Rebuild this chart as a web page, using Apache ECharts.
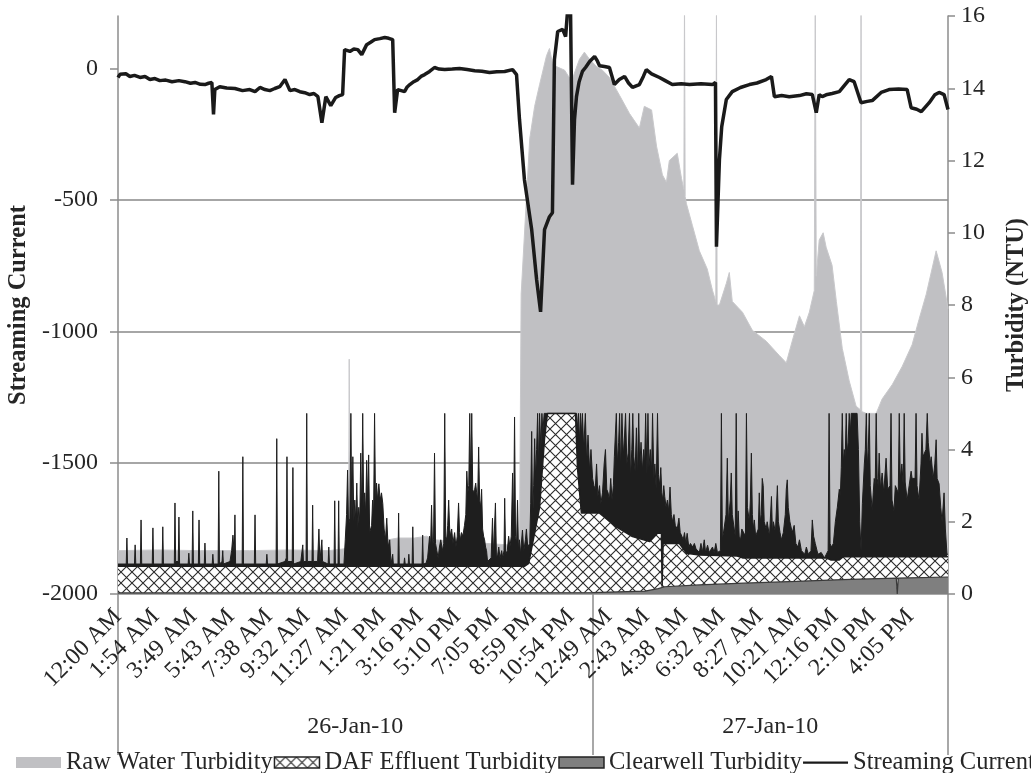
<!DOCTYPE html>
<html><head><meta charset="utf-8">
<script src="https://cdn.jsdelivr.net/npm/echarts@6/dist/echarts.min.js"></script>
<style>html,body{margin:0;padding:0;background:#fff}#c{width:1031px;height:773px}</style>
</head><body><div id="c"></div>
<script>
// x values are minutes after 12:00 AM, 26-Jan-10
const tickMinutes = [0,114,229,343,458,572,687,801,916,1030,1145,1259,1374,1489,1603,1718,1832,1947,2061,2176,2290,2405];
const tickLabels = ['12:00 AM','1:54 AM','3:49 AM','5:43 AM','7:38 AM','9:32 AM','11:27 AM','1:21 PM','3:16 PM','5:10 PM','7:05 PM','8:59 PM','10:54 PM','12:49 AM','2:43 AM','4:38 AM','6:32 AM','8:27 AM','10:21 AM','12:16 PM','2:10 PM','4:05 PM'];
const dayBounds = [0,1440,2520];
const dateCenters = [720,1980];
const dateLabels = ['26-Jan-10','27-Jan-10'];
const scTicks = [-2000,-1500,-1000,-500,0];
const turbTicks = [0,2,4,6,8,10,12,14,16];
const seriesNames = ['Raw Water Turbidity','DAF Effluent Turbidity','Clearwell Turbidity','Streaming Current'];

const rawWater = [[0,1.2],[120,1.22],[250,1.2],[400,1.2],[520,1.22],[640,1.2],[686,1.25],[700,1.3],[702,6.5],[705,1.3],[760,1.35],[820,1.5],[850,1.55],[900,1.55],[937,1.6],[960,1.5],[1030,1.45],[1120,1.4],[1198,1.35],[1219,1.4],[1224,8.3],[1250,12.6],[1265,13.5],[1280,14.1],[1301,14.9],[1310,15.1],[1319,14.7],[1331,14.6],[1356,14.5],[1377,14.2],[1401,14.8],[1416,15.0],[1432,14.8],[1453,14.6],[1471,14.5],[1492,14.3],[1523,13.8],[1553,13.3],[1583,12.9],[1598,13.5],[1620,13.4],[1635,12.4],[1653,11.6],[1665,11.4],[1674,12.0],[1698,12.2],[1711,11.5],[1718,11.2],[1720,16.5],[1722,11.0],[1726,10.8],[1744,10.2],[1765,9.5],[1789,9.0],[1805,8.4],[1815,8.1],[1817,16.5],[1819,8.0],[1826,8.0],[1847,8.6],[1856,8.9],[1865,8.1],[1896,7.8],[1926,7.3],[1968,7.0],[2008,6.6],[2029,6.4],[2047,7.0],[2069,7.7],[2084,7.4],[2099,7.8],[2114,8.4],[2117,16.5],[2120,8.8],[2129,9.8],[2141,10.0],[2150,9.6],[2168,9.1],[2181,8.1],[2199,6.8],[2220,5.9],[2241,5.2],[2254,5.1],[2256,16.5],[2258,5.05],[2272,5.0],[2302,5.0],[2320,5.4],[2351,5.8],[2381,6.3],[2411,6.9],[2432,7.6],[2454,8.3],[2484,9.5],[2502,8.9],[2520,7.9]];

// DAF effluent: upper envelope of the spiky trace (reads black) and lower envelope (hatched band)
const dafUpper = [[0,0.83],[25,0.83],[27,1.55],[29,0.83],[50,0.83],[52,1.36],[54,0.83],[68,0.83],[70,2.05],[72,0.83],[104,0.83],[106,1.83],[108,0.83],[134,0.83],[136,1.86],[138,0.83],[171,0.83],[173,2.52],[175,0.9],[183,0.9],[185,2.13],[187,0.83],[213,0.83],[215,1.13],[217,0.83],[225,0.83],[227,2.3],[229,0.83],[244,0.83],[246,2.05],[248,0.83],[262,0.83],[264,1.41],[266,0.83],[286,0.83],[288,1.1],[290,0.83],[304,0.83],[306,3.4],[308,0.83],[316,0.9],[318,1.2],[320,0.83],[340,0.9],[345,1.2],[349,1.63],[353,1.1],[355,2.19],[357,0.83],[377,0.83],[379,3.8],[381,0.83],[414,0.83],[416,2.19],[418,0.83],[450,0.83],[452,1.1],[454,0.83],[480,0.83],[482,4.3],[484,0.83],[507,0.9],[511,1.0],[513,3.8],[515,0.9],[529,0.9],[531,3.5],[533,0.83],[555,0.9],[561,1.36],[563,0.9],[571,0.9],[573,5],[575,0.9],[589,0.9],[591,2.46],[593,0.9],[606,0.9],[610,1.8],[613,0.9],[617,0.95],[619,1.5],[621,0.9],[638,0.83],[640,1.3],[642,0.83],[656,0.83],[658,2.58],[660,0.83],[668,0.83],[670,2.58],[672,0.83],
[686,0.83],[690,1.5],[694,2.2],[697,3.43],[700,1.9],[704,2.1],[707,5],[710,2.0],[713,3.8],[716,2.0],[719,2.6],[722,2.0],[725,3.07],[728,1.8],[731,2.4],[734,2.0],[737,3.9],[740,2.2],[743,5],[746,2.4],[749,2.8],[752,2.2],[755,3.7],[758,2.5],[761,3.85],[764,1.7],[767,1.68],[770,1.9],[773,2.6],[776,2.2],[779,5],[782,2.4],[785,3.07],[788,2.6],[792,3.05],[796,2.6],[800,2.8],[804,2.5],[808,1.8],[812,1.5],[816,2.1],[820,1.3],[825,1.5],[829,0.83],
[832,0.83],[834,1.1],[836,0.83],[850,0.83],[852,2.24],[854,0.83],[868,0.83],[870,1.0],[872,0.83],[881,0.83],[883,1.1],[885,0.83],[893,0.83],[895,1.86],[897,0.83],[923,0.83],[925,1.63],[927,0.83],
[935,0.85],[940,1.0],[946,1.6],[949,1.3],[952,2.46],[955,1.3],[958,1.5],[961,3.9],[964,1.4],[968,1.2],[972,1.0],[976,1.3],[980,1.5],[985,1.2],[989,1.4],[992,5],[995,1.6],[998,1.5],[1001,1.9],[1004,2.6],[1007,1.8],[1010,1.6],[1013,1.8],[1017,1.4],[1022,1.7],[1026,1.3],[1030,1.6],[1034,2.52],[1037,1.7],[1040,1.5],[1043,1.7],[1047,1.6],[1052,1.9],[1056,2.2],[1059,3.4],[1062,2.8],[1065,3.0],[1068,5],[1071,3.0],[1074,5],[1077,2.9],[1080,2.8],[1083,2.9],[1086,3.07],[1089,2.8],[1092,2.6],[1095,4.07],[1098,2.6],[1101,2.4],[1104,2.9],[1107,1.8],[1110,1.6],[1113,1.5],[1116,1.3],[1119,1.2],[1122,0.9],
[1125,0.9],[1133,1.0],[1137,2.1],[1140,1.1],[1146,2.52],[1149,1.0],[1153,1.1],[1156,1.3],[1160,1.0],[1165,1.2],[1168,1.0],[1172,1.2],[1174,2.65],[1177,1.1],[1182,1.2],[1186,1.6],[1190,1.3],[1194,1.6],[1198,3.35],[1201,1.8],[1204,4.9],[1207,1.6],[1210,1.4],[1213,2.6],[1216,1.2],[1219,1.5],[1222,1.1],[1228,1.77],[1232,1.2],[1237,1.5],[1240,1.8],[1244,1.3],[1250,1.4],[1253,2.5],[1256,4.5],[1259,2.0],[1262,3.0],[1265,4.3],[1268,3.2],[1271,4.0],[1274,5],[1277,3.5],[1280,5],[1284,4.0],[1287,5],[1290,4.5],[1294,5],[1392,5],
[1395,4.6],[1398,5],[1401,4.2],[1404,5],[1407,4.4],[1410,5],[1414,4.0],[1419,5],[1423,3.6],[1427,4.4],[1432,3.4],[1436,4.0],[1441,3.2],[1445,3.0],[1449,2.9],[1453,3.6],[1457,2.7],[1462,3.0],[1466,2.5],[1471,2.8],[1476,3.6],[1480,4.0],[1484,2.9],[1488,2.8],[1492,2.6],[1496,3.2],[1500,2.6],[1504,3.0],[1507,3.8],[1510,4.4],[1513,5],[1516,3.6],[1520,4.2],[1523,5],[1526,3.4],[1530,5],[1534,3.8],[1538,4.4],[1541,5],[1545,3.6],[1549,3.9],[1553,5],[1556,3.2],[1560,4.0],[1563,5],[1566,3.8],[1570,3.4],[1574,4.6],[1577,3.2],[1581,5],[1584,3.5],[1588,4.2],[1592,3.4],[1596,4.0],[1599,3.6],[1602,5],[1606,3.3],[1609,5],[1612,3.5],[1616,4.0],[1620,3.4],[1623,5],[1627,3.2],[1630,3.6],[1634,2.9],[1638,5],[1641,3.3],[1645,3.0],[1648,3.5],[1651,2.8],[1654,2.6],[1657,3.0],[1660,2.7],[1664,2.4],[1668,2.6],[1672,2.3],[1676,2.96],[1680,2.2],[1684,2.0],[1688,2.2],[1692,1.9],[1698,1.8],[1703,2.1],[1707,1.7],[1712,1.6],[1716,1.5],[1720,1.7],[1724,1.4],[1728,1.68],[1733,1.3],[1738,1.4],[1745,1.3],[1750,1.4],[1755,1.25],[1760,1.3],
[1765,1.15],[1770,1.4],[1774,1.15],[1780,1.5],[1784,1.15],[1790,1.35],[1795,1.15],[1805,1.3],[1810,1.15],[1815,1.4],[1820,1.15],[1829,1.2],[1832,5],[1835,1.5],[1840,1.8],[1846,2.2],[1850,3.76],[1853,2.0],[1859,2.6],[1862,3.35],[1865,2.2],[1871,1.8],[1874,1.6],[1877,5],[1880,1.7],[1883,2.3],[1886,1.6],[1890,1.5],[1894,1.8],[1905,1.6],[1908,5],[1911,2.4],[1917,2.0],[1920,2.6],[1923,3.9],[1926,2.2],[1929,1.8],[1932,2.05],[1936,1.6],[1944,1.8],[1947,2.8],[1950,2.0],[1953,2.2],[1956,3.2],[1959,3.0],[1962,2.0],[1968,1.8],[1971,2.0],[1978,1.6],[1984,2.7],[1987,1.7],[1990,2.0],[1996,1.7],[2002,3.0],[2005,2.0],[2010,1.7],[2014,1.5],[2020,1.7],[2026,2.2],[2029,2.9],[2032,3.16],[2035,2.4],[2040,2.0],[2047,1.7],[2053,1.9],[2058,1.4],[2064,1.3],[2069,1.5],[2075,1.2],[2085,1.1],[2090,1.3],[2096,1.1],[2104,1.2],[2108,2.05],[2112,1.6],[2117,1.4],[2125,1.1],[2135,1.15],[2145,1.0],[2150,1.0],[2156,1.2],[2159,5],[2162,1.4],[2166,1.3],[2172,1.4],[2178,2.0],[2184,2.4],[2190,2.9],[2193,2.7],[2196,3.5],[2199,5],[2202,3.6],[2205,4.0],[2208,3.8],[2211,5],[2214,3.9],[2217,4.2],[2220,5],[2224,4.5],[2226,5],[2244,5],[2248,4.0],[2252,2.0],[2256,1.2],[2260,2.5],[2266,3.6],[2269,4.0],[2272,5],[2275,3.5],[2278,4.0],[2281,5],[2284,3.0],[2290,2.3],[2293,2.8],[2296,3.2],[2299,3.0],[2302,5],[2305,3.2],[2308,3.0],[2311,3.9],[2315,2.9],[2320,3.35],[2325,2.8],[2332,3.76],[2337,2.9],[2344,3.0],[2347,5],[2350,2.6],[2356,2.3],[2360,3.0],[2369,2.8],[2372,5],[2375,3.2],[2380,3.6],[2384,3.0],[2387,5],[2390,3.1],[2396,2.6],[2402,3.0],[2408,3.4],[2411,3.2],[2420,3.2],[2423,5],[2426,3.0],[2432,2.6],[2438,3.6],[2441,4.45],[2444,3.8],[2453,4.0],[2457,5],[2460,4.2],[2466,3.6],[2469,3.8],[2475,3.2],[2480,3.6],[2484,4.27],[2487,3.2],[2493,3.05],[2498,2.4],[2502,2.0],[2508,2.8],[2512,1.8],[2517,1.1],[2520,1.1]];

const dafLower = [[0,0.77],[1235,0.77],[1247,0.85],[1280,2.4],[1295,4.3],[1304,5],[1389,5],[1395,3.5],[1407,2.24],[1462,2.24],[1513,1.86],[1562,1.59],[1614,1.45],[1638,1.68],[1650,1.68],[1652,0.2],[1655,1.4],[1704,1.4],[1726,1.13],[1765,1.08],[1880,1.05],[1896,1.0],[2150,1.0],[2165,0.94],[2190,0.94],[2202,1.03],[2520,1.03]];

const clearwell = [[0,0.03],[1440,0.04],[1520,0.06],[1600,0.08],[1640,0.15],[1660,0.2],[1765,0.25],[1900,0.3],[2060,0.35],[2200,0.4],[2363,0.44],[2366,0.0],[2369,0.44],[2520,0.47]];

const streaming = [[0,-34],[6,-22],[12,-27],[24,-20],[36,-30],[50,-26],[67,-34],[82,-30],[97,-42],[112,-38],[127,-46],[145,-44],[164,-50],[185,-46],[203,-50],[220,-56],[234,-53],[250,-60],[264,-61],[275,-56],[285,-53],[290,-175],[294,-80],[309,-69],[330,-74],[355,-76],[378,-84],[400,-80],[416,-88],[431,-72],[446,-80],[461,-84],[476,-76],[491,-69],[507,-42],[522,-84],[537,-80],[552,-88],[567,-92],[582,-99],[595,-95],[607,-107],[619,-206],[631,-107],[646,-141],[661,-110],[672,-103],[682,-99],[688,72],[704,65],[716,74],[728,72],[740,53],[755,91],[767,100],[779,110],[795,114],[810,118],[822,115],[834,110],[840,-168],[849,-80],[860,-84],[870,-88],[878,-70],[886,-61],[898,-50],[910,-42],[920,-30],[931,-23],[946,-11],[961,4],[975,-2],[992,-4],[1015,-2],[1037,0],[1060,-4],[1083,-8],[1105,-10],[1128,-15],[1150,-12],[1174,-11],[1198,-4],[1210,-23],[1219,-194],[1234,-423],[1256,-613],[1271,-804],[1283,-926],[1295,-613],[1310,-564],[1319,-549],[1325,34],[1335,141],[1350,149],[1359,122],[1365,220],[1374,220],[1380,-442],[1386,-194],[1392,-107],[1400,-50],[1410,-11],[1420,5],[1432,27],[1447,46],[1455,30],[1462,11],[1477,8],[1492,4],[1507,-61],[1522,-42],[1538,-30],[1550,-55],[1562,-72],[1583,-61],[1595,-30],[1604,-4],[1620,-20],[1644,-34],[1660,-45],[1683,-61],[1710,-58],[1735,-61],[1770,-58],[1805,-61],[1814,-53],[1817,-678],[1826,-347],[1833,-221],[1847,-118],[1865,-88],[1890,-72],[1917,-61],[1940,-55],[1968,-42],[1984,-30],[1993,-107],[2015,-103],[2038,-107],[2069,-103],[2090,-96],[2108,-99],[2120,-168],[2129,-99],[2138,-107],[2150,-100],[2168,-95],[2190,-88],[2205,-65],[2220,-42],[2235,-50],[2256,-130],[2275,-125],[2290,-122],[2317,-91],[2341,-80],[2370,-78],[2396,-80],[2408,-149],[2425,-155],[2439,-164],[2463,-130],[2480,-100],[2493,-91],[2508,-99],[2520,-156]];

function hatchPattern() {
  const s = 11, c = document.createElement('canvas');
  c.width = s; c.height = s;
  const g = c.getContext('2d');
  g.fillStyle = '#ffffff'; g.fillRect(0, 0, s, s);
  g.strokeStyle = '#2a2a2a'; g.lineWidth = 1.1;
  g.beginPath();
  g.moveTo(-1, -1); g.lineTo(s + 1, s + 1);
  g.moveTo(s + 1, -1); g.lineTo(-1, s + 1);
  g.stroke();
  return c;
}
const hatch = { image: hatchPattern(), repeat: 'repeat' };

const FONT = "'Liberation Serif','Times New Roman',serif";
const TXT = '#262626';
const AXC = '#8c8c8c';

function nearestLabel(v, vals, labels) {
  let best = 0, d = Infinity;
  vals.forEach((x, i) => { if (Math.abs(x - v) < d) { d = Math.abs(x - v); best = i; } });
  return labels[best];
}

const chart = echarts.init(document.getElementById('c'), null, { renderer: 'canvas' });
chart.setOption({
  animation: false,
  backgroundColor: '#ffffff',
  grid: { left: 118, right: 83, top: 16, bottom: 179, containLabel: false, outerBoundsMode: 'none' },
  legend: {
    left: 11, top: 745, width: 2000, itemWidth: 45, itemHeight: 11, itemGap: 1,
    textStyle: { fontFamily: FONT, fontSize: 24.5, color: TXT },
    data: [
      { name: seriesNames[0], icon: 'rect', itemStyle: { color: '#c0c0c3', borderWidth: 0 } },
      { name: seriesNames[1], icon: 'rect', itemStyle: { color: hatch, borderColor: '#222', borderWidth: 1.5 } },
      { name: seriesNames[2], icon: 'rect', itemStyle: { color: '#7f7f7f', borderColor: '#222', borderWidth: 1.5 } },
      { name: seriesNames[3], icon: 'path://M0,0 L60,0 L60,3 L0,3 Z', itemStyle: { color: '#1a1a1a', borderWidth: 0 } }
    ]
  },
  xAxis: [
    {
      type: 'value', min: 0, max: 2520, position: 'bottom',
      axisLine: { show: true, onZero: false, lineStyle: { color: AXC, width: 1.5 } },
      axisTick: { show: false },
      splitLine: { show: false },
      axisLabel: {
        customValues: tickMinutes, rotate: 45, margin: 19,
        fontFamily: FONT, fontSize: 24, color: TXT,
        formatter: v => nearestLabel(v, tickMinutes, tickLabels)
      }
    },
    {
      type: 'value', min: 0, max: 2520, position: 'bottom', offset: 0,
      axisLine: { show: false, onZero: false },
      axisTick: { show: true, customValues: dayBounds, length: 161, lineStyle: { color: AXC, width: 1.5 } },
      splitLine: { show: false },
      axisLabel: {
        customValues: dateCenters, margin: 121,
        fontFamily: FONT, fontSize: 24, color: TXT,
        formatter: v => nearestLabel(v, dateCenters, dateLabels)
      }
    }
  ],
  yAxis: [
    {
      type: 'value', min: -2000, max: 200, interval: 500, position: 'left',
      name: 'Streaming Current', nameLocation: 'middle', nameRotate: 90, nameGap: 69,
      nameTextStyle: { fontFamily: FONT, fontSize: 24.5, fontWeight: 'bold', color: TXT },
      axisLine: { show: true, onZero: false, lineStyle: { color: AXC, width: 1.5 } },
      axisTick: { show: true, customValues: scTicks, length: 8, lineStyle: { color: AXC, width: 1.5 } },
      axisLabel: { customValues: scTicks, margin: 20, fontFamily: FONT, fontSize: 24, color: TXT, formatter: v => String(v) },
      splitLine: { show: true, showMaxLine: false, showMinLine: false, lineStyle: { color: '#a6a6a6', width: 2 } }
    },
    {
      type: 'value', min: 0, max: 16, interval: 2, position: 'right',
      name: 'Turbidity (NTU)', nameLocation: 'middle', nameRotate: 90, nameGap: 56,
      nameTextStyle: { fontFamily: FONT, fontSize: 24.5, fontWeight: 'bold', color: TXT },
      axisLine: { show: true, onZero: false, lineStyle: { color: AXC, width: 1.5 } },
      axisTick: { show: true, customValues: turbTicks, length: 7, lineStyle: { color: AXC, width: 1.5 } },
      axisLabel: { customValues: turbTicks, margin: 13, fontFamily: FONT, fontSize: 24, color: TXT },
      splitLine: { show: false }
    }
  ],
  series: [
    {
      name: seriesNames[0], type: 'line', xAxisIndex: 0, yAxisIndex: 1, data: rawWater,
      symbol: 'none', z: 1,
      lineStyle: { color: '#c8c8cb', width: 1 },
      itemStyle: { color: '#c0c0c3' },
      areaStyle: { color: '#c0c0c3', opacity: 1 }
    },
    {
      name: seriesNames[1], type: 'line', xAxisIndex: 0, yAxisIndex: 1, data: dafUpper,
      symbol: 'none', z: 2,
      lineStyle: { color: '#1e1e1e', width: 1 },
      itemStyle: { color: '#1e1e1e' },
      areaStyle: { color: '#1e1e1e', opacity: 1 }
    },
    {
      name: seriesNames[1], type: 'line', xAxisIndex: 0, yAxisIndex: 1, data: dafLower,
      symbol: 'none', z: 3,
      lineStyle: { color: '#1e1e1e', width: 1.5 },
      itemStyle: { color: '#1e1e1e' },
      areaStyle: { color: hatch, opacity: 1 }
    },
    {
      name: seriesNames[2], type: 'line', xAxisIndex: 0, yAxisIndex: 1, data: clearwell,
      symbol: 'none', z: 4,
      lineStyle: { color: '#3a3a3a', width: 1.2 },
      itemStyle: { color: '#7f7f7f' },
      areaStyle: { color: '#7f7f7f', opacity: 1 }
    },
    {
      name: seriesNames[3], type: 'line', xAxisIndex: 0, yAxisIndex: 0, data: streaming,
      symbol: 'none', z: 5,
      lineStyle: { color: '#1a1a1a', width: 3.5 },
      itemStyle: { color: '#1a1a1a' }
    }
  ]
});
</script>
</body></html>
